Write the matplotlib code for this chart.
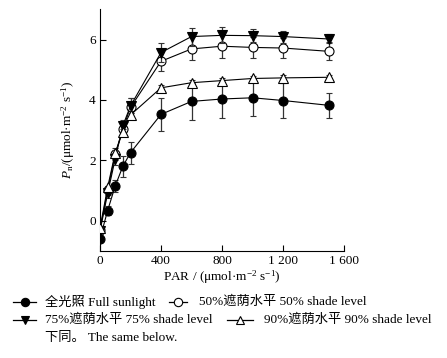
import matplotlib
matplotlib.use("Agg")
import matplotlib.pyplot as plt
from matplotlib.lines import Line2D

plt.rcParams['font.family'] = ['Liberation Serif', 'Noto Sans CJK SC']
plt.rcParams['mathtext.fontset'] = 'custom'
plt.rcParams['mathtext.rm'] = 'Liberation Serif'
plt.rcParams['mathtext.it'] = 'Liberation Serif:italic'

par = [0, 50, 100, 150, 200, 400, 600, 800, 1000, 1200, 1500]
full = [-0.6, 0.33, 1.15, 1.8, 2.25, 3.52, 3.95, 4.03, 4.07, 3.98, 3.82]
full_err = [0.12, 0.15, 0.2, 0.35, 0.36, 0.55, 0.62, 0.63, 0.6, 0.57, 0.42]
s50 = [-0.3, 1.0, 2.2, 3.05, 3.75, 5.28, 5.69, 5.78, 5.74, 5.72, 5.61]
s50_err = [0.1, 0.15, 0.2, 0.2, 0.3, 0.33, 0.38, 0.38, 0.35, 0.32, 0.3]
s75 = [-0.35, 0.9, 2.05, 3.15, 3.8, 5.57, 6.1, 6.14, 6.13, 6.1, 6.02]
s75_err = [0.1, 0.15, 0.2, 0.2, 0.25, 0.32, 0.3, 0.27, 0.22, 0.2, 0.15]
s90 = [-0.25, 1.1, 2.25, 2.95, 3.5, 4.4, 4.57, 4.64, 4.71, 4.73, 4.75]
s90_err = [0.05, 0.05, 0.08, 0.08, 0.08, 0.08, 0.08, 0.08, 0.08, 0.08, 0.08]

labels = ['全光照 Full sunlight', '50%遮荫水平 50% shade level',
          '75%遮荫水平 75% shade level', '90%遮荫水平 90% shade level']
xticks = [0, 400, 800, 1200, 1600]
xticklabels = ['0', '400', '800', '1 200', '1 600']
yticks = [0, 2, 4, 6]

FS = 9.5
fig = plt.figure(figsize=(4.47, 3.58), dpi=100)
ax = fig.add_axes([0.2237, 0.2997, 0.546, 0.674])

styles = [
    (full, full_err, dict(marker='o', mfc='black', mec='black')),
    (s50, s50_err, dict(marker='o', mfc='white', mec='black')),
    (s75, s75_err, dict(marker='v', mfc='black', mec='black')),
    (s90, s90_err, dict(marker='^', mfc='white', mec='black')),
]
for i, (y, e, st) in enumerate(styles):
    ax.errorbar(par, y, yerr=e, color='black', lw=0.8, ms=6.5, mew=0.8,
                ecolor='#333333', elinewidth=0.9, capsize=2.5, capthick=0.9,
                zorder=3 + i, **st)

ax.set_xlim(0, 1600)
ax.set_ylim(-1, 7)
ax.set_xticks(xticks)
ax.set_xticklabels(xticklabels)
ax.set_yticks(yticks)
ax.tick_params(direction='in', length=4, width=0.8, labelsize=FS, pad=3)
for s in ['top', 'right']:
    ax.spines[s].set_visible(False)
for s in ['left', 'bottom']:
    ax.spines[s].set_linewidth(0.8)
ax.set_xlabel('PAR / (μmol·m$^{-2}$ s$^{-1}$)', fontsize=FS, labelpad=1)
ax.set_ylabel('$P_{\\rm n}$/(μmol·m$^{-2}$ s$^{-1}$)', fontsize=FS, labelpad=9)

# legend (manual)
W, H = 447.0, 358.0
def legend_item(x0, x1, y, mk, mfc, text, tx):
    fig.add_artist(Line2D([x0 / W, x1 / W], [1 - y / H, 1 - y / H], color='black',
                          lw=0.9, transform=fig.transFigure))
    fig.add_artist(Line2D([(x0 + x1) / 2 / W], [1 - y / H], color='black', marker=mk,
                          mfc=mfc, mec='black', ms=6, mew=0.8, ls='none',
                          transform=fig.transFigure))
    fig.text(tx / W, 1 - y / H, text, fontsize=FS, va='center', ha='left')

legend_item(13, 36, 301.5, 'o', 'black', labels[0], 45)
legend_item(169, 187, 301.5, 'o', 'white', labels[1], 199)
legend_item(13, 36, 320, 'v', 'black', labels[2], 45)
legend_item(227, 253, 320, '^', 'white', labels[3], 264)
fig.text(45 / W, 1 - 338 / H, '下同。 The same below.', fontsize=FS, va='center', ha='left')

fig.savefig('out.png', dpi=100)
